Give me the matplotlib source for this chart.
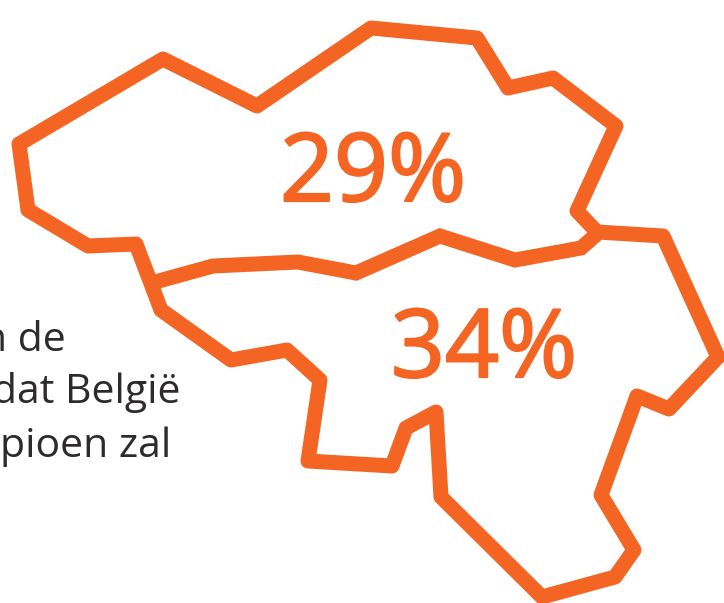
import matplotlib
matplotlib.use("Agg")
import matplotlib.pyplot as plt
import matplotlib.patheffects as pe

plt.rcParams["font.family"] = ["Open Sans", "DejaVu Sans"]

ORANGE = "#f46523"

# outer border of the country, pixels
outer_x = [597, 577, 616, 553, 508, 477, 371, 257, 163, 19, 28, 88, 136, 161, 231, 287, 320, 308, 392, 406, 436, 441, 542, 615, 634, 601, 637, 669, 718, 663, 597]
outer_y = [232, 211, 126, 78, 88, 38, 28, 106, 59, 144, 210, 246, 244, 310, 360, 350, 380, 461, 466, 428, 412, 497, 597, 577, 550, 495, 396, 409, 357, 236, 232]

# line between north and south
middle_x = [155, 213, 298, 356, 440, 515, 581, 597]
middle_y = [282, 266, 262, 273, 236, 260, 248, 234]

labels = ["29%", "34%"]
label_x = [280, 391]
label_y = [201, 377]

# text runs off the left edge, so it is anchored on the right
text_lines = ["n de", "dat België", "pioen zal"]
text_x = [66, 181, 171]
text_y = [351, 403, 457]

fig = plt.figure(figsize=(7.24, 6.03), dpi=100)
ax = fig.add_axes([0, 0, 1, 1])
ax.set_xlim(0, 724)
ax.set_ylim(603, 0)
ax.axis("off")

ax.plot(outer_x, outer_y, color=ORANGE, lw=10.8, solid_joinstyle="round", solid_capstyle="round")
ax.plot(middle_x, middle_y, color=ORANGE, lw=10.8, solid_joinstyle="miter", solid_capstyle="butt")

# no medium weight installed, so thicken the regular one a bit
for s, x, y in zip(labels, label_x, label_y):
    t = ax.text(x, y, s, color=ORANGE, fontsize=68, ha="left", va="baseline")
    t.set_path_effects([pe.withStroke(linewidth=1.6, foreground=ORANGE)])

for s, x, y in zip(text_lines, text_x, text_y):
    ax.text(x, y, s, color="#2d2a2b", fontsize=29.5, ha="right", va="baseline")

fig.savefig("out.png", dpi=100)
